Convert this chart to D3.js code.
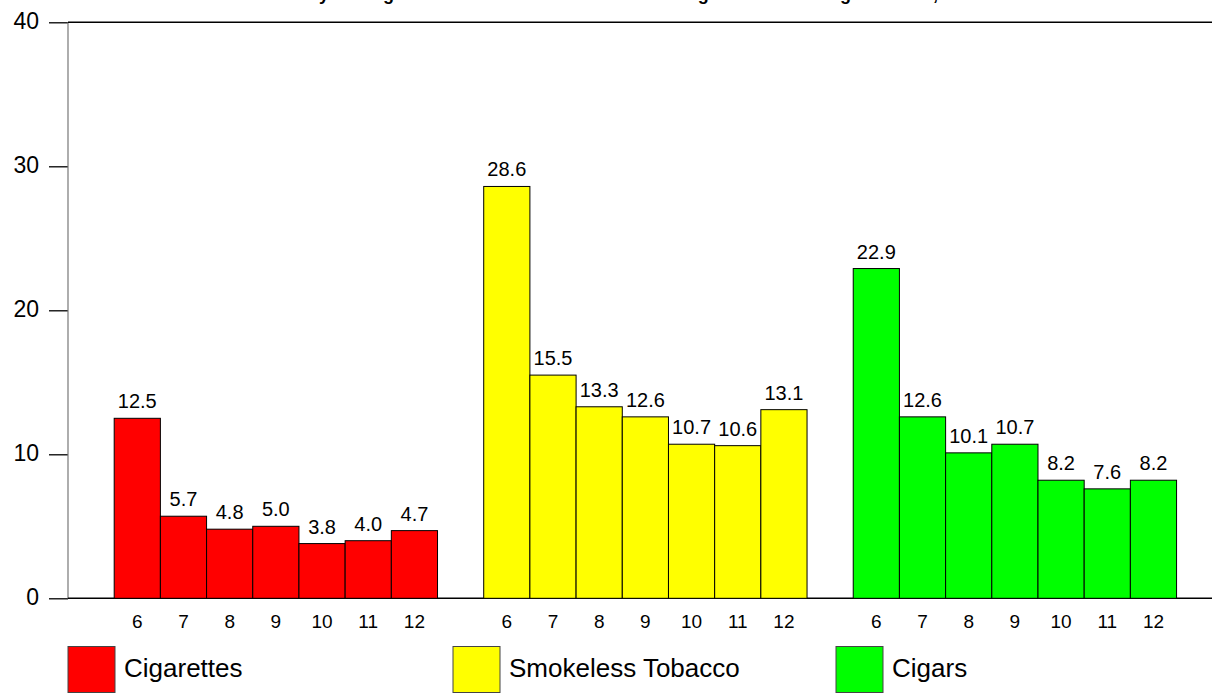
<!DOCTYPE html>
<html>
<head>
<meta charset="utf-8">
<script src="https://cdn.jsdelivr.net/npm/d3@7"></script>
<style>
  html, body { margin: 0; padding: 0; background: #fff; }
  svg { display: block; }
  text { font-family: "Liberation Sans", Arial, sans-serif; fill: #000; }
</style>
</head>
<body>
<svg id="chart" width="1212" height="693"></svg>
<script>
// ---- data ----
const title = "Boys Using Tobacco Products in Middle and High School Among Students, 2000";
const grades = ["6", "7", "8", "9", "10", "11", "12"];
const products = ["Cigarettes", "Smokeless Tobacco", "Cigars"];
const cigarettes = [12.5, 5.7, 4.8, 5.0, 3.8, 4.0, 4.7];
const smokeless = [28.6, 15.5, 13.3, 12.6, 10.7, 10.6, 13.1];
const cigars = [22.9, 12.6, 10.1, 10.7, 8.2, 7.6, 8.2];
const colors = ["#ff0000", "#ffff00", "#00ff00"];
const yTicks = [0, 10, 20, 30, 40];

const seriesValues = [cigarettes, smokeless, cigars];

// ---- layout ----
const svg = d3.select("#chart");
const left = 68, slotW = 46.19;
const slots = [];
slots.push("pad-start");
products.forEach((p, pi) => {
  grades.forEach(g => slots.push(p + "|" + g));
  slots.push("pad-" + pi);
});
const x = d3.scaleBand().domain(slots).range([left, left + slots.length * slotW]).padding(0);
const y = d3.scaleLinear().domain([0, 40]).range([598.3, 22.3]);

const bars = [];
products.forEach((p, pi) => {
  grades.forEach((g, gi) => bars.push({ key: p + "|" + g, grade: g, value: seriesValues[pi][gi], color: colors[pi] }));
});

// title (mostly above the visible area, as in the reference)
svg.append("text")
  .attr("x", 639).attr("y", -0.4)
  .attr("text-anchor", "middle")
  .style("font-size", "18px").style("font-weight", "bold")
  .text(title);

// y axis
const yAxis = svg.append("g").attr("transform", `translate(${left},0)`)
  .call(d3.axisLeft(y).tickValues(yTicks).tickSize(19).tickPadding(10).tickFormat(d3.format("d")));
yAxis.select(".domain").remove();
yAxis.selectAll(".tick line").attr("stroke", "#000").attr("stroke-width", 1.3);
yAxis.selectAll(".tick text").style("font-size", "23px").attr("dy", "0.25em").style("font-family", '"Liberation Sans", Arial, sans-serif');

svg.append("line").attr("x1", left).attr("x2", left).attr("y1", y(40)).attr("y2", y(0))
  .attr("stroke", "#777").attr("stroke-width", 1.2);
// top and bottom frame lines
[0, 40].forEach(v => {
  svg.append("line").attr("x1", left).attr("x2", 1212).attr("y1", y(v)).attr("y2", y(v))
    .attr("stroke", "#000").attr("stroke-width", 1.6);
});

// bars
svg.append("g").selectAll("rect").data(bars).join("rect")
  .attr("x", d => x(d.key)).attr("width", x.bandwidth())
  .attr("y", d => y(d.value)).attr("height", d => y(0) - y(d.value))
  .attr("fill", d => d.color).attr("stroke", "#000").attr("stroke-width", 1);

// value labels
svg.append("g").selectAll("text").data(bars).join("text")
  .attr("x", d => x(d.key) + x.bandwidth() / 2)
  .attr("y", d => y(d.value) - 10)
  .attr("text-anchor", "middle")
  .style("font-size", "20px")
  .text(d => d3.format(".1f")(d.value));

// x tick labels
svg.append("g").selectAll("text").data(bars).join("text")
  .attr("x", d => x(d.key) + x.bandwidth() / 2)
  .attr("y", 628)
  .attr("text-anchor", "middle")
  .style("font-size", "19px")
  .text(d => d.grade);

// legend
const legX = [68, 453, 836];
const leg = svg.append("g").selectAll("g").data(products).join("g")
  .attr("transform", (d, i) => `translate(${legX[i]},646.5)`);
leg.append("rect").attr("width", 47).attr("height", 46)
  .attr("fill", (d, i) => colors[i]).attr("stroke", "#444").attr("stroke-width", 1);
leg.append("text").attr("x", 56).attr("y", 30.5)
  .style("font-size", "26px").text(d => d);
</script>
</body>
</html>
